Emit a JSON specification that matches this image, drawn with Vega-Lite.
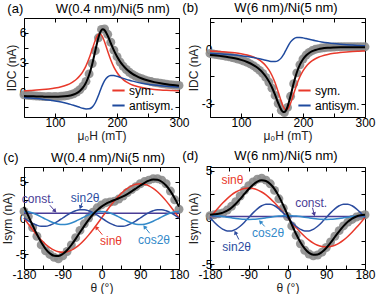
{
"$schema":"https://vega.github.io/schema/vega-lite/v6.json",
"padding":{"left":0,"top":0,"right":0,"bottom":0},
"config":{
 "font":"Liberation Sans",
 "view":{"stroke":"#000","strokeWidth":1},
 "axis":{"domain":false,"grid":false,"tickColor":"#000","tickSize":-4,"tickWidth":1,"labelFont":"Liberation Sans","labelFontSize":12,"labelColor":"#000","labelPadding":2,"labelFlush":false,"labelOverlap":false,"titleFont":"Liberation Sans","titleFontSize":12,"titleFontWeight":"normal","titleColor":"#222","titlePadding":1},
 "axisX":{"labelPadding":4,"titlePadding":2},
 "title":{"font":"Liberation Sans","fontSize":13,"fontWeight":"normal","color":"#000","anchor":"start","frame":"bounds","offset":2},
 "legend":{"labelFont":"Liberation Sans","labelFontSize":12,"labelColor":"#000","symbolType":"stroke","symbolStrokeWidth":2,"symbolSize":150,"rowPadding":1,"padding":0,"offset":5,"labelOffset":3}
},
"columns":2,
"bounds":"flush",
"spacing":{"row":50,"column":31},
"resolve":{"scale":{"color":"independent","angle":"independent"},"legend":{"color":"independent"}},
"concat":[
{
 "width":155,"height":99,
 "title":{"text":"(a)\u00a0\u00a0\u00a0\u00a0\u00a0\u00a0\u00a0\u00a0\u00a0W(0.4 nm)/Ni(5 nm)","dx":2},
 "data":{"name":"a"},
 "layer":[
  {"transform":[{"filter":"datum.s==='dat'"}],
   "mark":{"type":"circle","size":80,"color":"#8c8c8c","opacity":0.9},
   "encoding":{
    "x":{"field":"H","type":"quantitative","scale":{"domain":[50,300],"nice":false,"zero":false},"axis":{"values":[50,100,150,200,250,300],"labelExpr":"datum.value % 100 === 0 ? datum.label : ''","title":"μ₀H (mT)"}},
    "y":{"field":"v","type":"quantitative","scale":{"domain":[-2.5,7.5],"nice":false,"zero":false},"axis":{"values":[-1.5,0,1.5,3,4.5,6],"labelExpr":"datum.value % 3 === 0 ? datum.label : ''","title":"IDC (nA)"}}}},
  {"transform":[{"filter":"datum.s==='sym.' || datum.s==='antisym.'"}],
   "mark":{"type":"line","strokeWidth":1.5,"interpolate":"monotone"},
   "encoding":{
    "x":{"field":"H","type":"quantitative","axis":null},
    "y":{"field":"v","type":"quantitative","axis":null},
    "color":{"field":"s","type":"nominal","scale":{"domain":["sym.","antisym."],"range":["#e8392b","#1f4a9e"]},"legend":{"title":null,"orient":"bottom-right"}}}},
  {"transform":[{"filter":"datum.s==='fit'"}],
   "mark":{"type":"line","strokeWidth":2,"color":"#000","interpolate":"monotone"},
   "encoding":{
    "x":{"field":"H","type":"quantitative","axis":{"orient":"top","values":[50,100,150,200,250,300],"labels":false,"title":null}},
    "y":{"field":"v","type":"quantitative","axis":{"orient":"right","values":[-1.5,0,1.5,3,4.5,6],"labels":false,"title":null}}}}
 ],
 "resolve":{"axis":{"x":"independent","y":"independent"}}
},
{
 "width":155,"height":99,
 "title":{"text":"(b)\u00a0\u00a0\u00a0\u00a0\u00a0\u00a0\u00a0\u00a0\u00a0\u00a0W(6 nm)/Ni(5 nm)","dx":-5},
 "data":{"name":"b"},
 "layer":[
  {"transform":[{"filter":"datum.s==='dat'"}],
   "mark":{"type":"circle","size":80,"color":"#8c8c8c","opacity":0.9},
   "encoding":{
    "x":{"field":"H","type":"quantitative","scale":{"domain":[50,300],"nice":false,"zero":false},"axis":{"values":[50,100,150,200,250,300],"labelExpr":"datum.value % 100 === 0 ? datum.label : ''","title":"μ₀H (mT)"}},
    "y":{"field":"v","type":"quantitative","scale":{"domain":[-3.75,1.75],"nice":false,"zero":false},"axis":{"values":[-3,-1.5,0,1.5],"labelExpr":"datum.value % 3 === 0 ? replace(datum.label, '−', '-') : ''","title":"IDC (nA)"}}}},
  {"transform":[{"filter":"datum.s==='sym.' || datum.s==='antisym.'"}],
   "mark":{"type":"line","strokeWidth":1.5,"interpolate":"monotone"},
   "encoding":{
    "x":{"field":"H","type":"quantitative","axis":null},
    "y":{"field":"v","type":"quantitative","axis":null},
    "color":{"field":"s","type":"nominal","scale":{"domain":["sym.","antisym."],"range":["#e8392b","#1f4a9e"]},"legend":{"title":null,"orient":"bottom-right"}}}},
  {"transform":[{"filter":"datum.s==='fit'"}],
   "mark":{"type":"line","strokeWidth":2,"color":"#000","interpolate":"monotone"},
   "encoding":{
    "x":{"field":"H","type":"quantitative","axis":{"orient":"top","values":[50,100,150,200,250,300],"labels":false,"title":null}},
    "y":{"field":"v","type":"quantitative","axis":{"orient":"right","values":[-3,-1.5,0,1.5],"labels":false,"title":null}}}}
 ],
 "resolve":{"axis":{"x":"independent","y":"independent"}}
},
{
 "width":155,"height":102,
 "title":{"text":"(c)\u00a0\u00a0\u00a0\u00a0\u00a0\u00a0\u00a0\u00a0\u00a0W(0.4 nm)/Ni(5 nm)","dx":2},
 "data":{"name":"c"},
 "layer":[
  {"transform":[{"filter":"datum.s==='dat'"}],
   "mark":{"type":"circle","size":80,"color":"#8c8c8c","opacity":0.9},
   "encoding":{
    "x":{"field":"t","type":"quantitative","scale":{"domain":[-180,180],"nice":false,"zero":false},"axis":{"values":[-180,-135,-90,-45,0,45,90,135,180],"labelExpr":"datum.value % 90 === 0 ? replace(datum.label, '−', '-') : ''","title":"θ (°)"}},
    "y":{"field":"v","type":"quantitative","scale":{"domain":[-7,7],"nice":false,"zero":false},"axis":{"values":[-5,-2.5,0,2.5,5],"labelExpr":"datum.value % 5 === 0 ? replace(datum.label, '−', '-') : ''","title":"Isym (nA)"}}}},
  {"transform":[{"filter":"datum.s!=='dat' && datum.s!=='fit'"}],
   "mark":{"type":"line","strokeWidth":1.5,"interpolate":"monotone"},
   "encoding":{
    "x":{"field":"t","type":"quantitative","axis":null},
    "y":{"field":"v","type":"quantitative","axis":null},
    "color":{"field":"s","type":"nominal","scale":{"domain":["const.","sinθ","sin2θ","cos2θ"],"range":["#4a3d96","#e8392b","#2c4c9f","#3289c9"]},"legend":null}}},
  {"transform":[{"filter":"datum.s==='fit'"}],
   "mark":{"type":"line","strokeWidth":2,"color":"#000","interpolate":"monotone"},
   "encoding":{
    "x":{"field":"t","type":"quantitative","axis":{"orient":"top","values":[-180,-135,-90,-45,0,45,90,135,180],"labels":false,"title":null}},
    "y":{"field":"v","type":"quantitative","axis":{"orient":"right","values":[-5,-2.5,0,2.5,5],"labels":false,"title":null}}}},
  {"data":{"name":"ca"},
   "mark":{"type":"text","fontSize":12,"font":"Liberation Sans"},
   "encoding":{
    "x":{"field":"x","type":"quantitative","axis":null},
    "y":{"field":"y","type":"quantitative","axis":null},
    "text":{"field":"s"},
    "color":{"field":"s","type":"nominal","scale":{"domain":["const.","sinθ","sin2θ","cos2θ"],"range":["#4a3d96","#e8392b","#2c4c9f","#3289c9"]},"legend":null}}},
  {"data":{"name":"ca"},
   "mark":{"type":"rule","strokeWidth":1},
   "encoding":{
    "x":{"field":"x1","type":"quantitative","axis":null},
    "y":{"field":"y1","type":"quantitative","axis":null},
    "x2":{"field":"x2"},"y2":{"field":"y2"},
    "color":{"field":"s","type":"nominal","scale":{"domain":["const.","sinθ","sin2θ","cos2θ"],"range":["#4a3d96","#e8392b","#2c4c9f","#3289c9"]},"legend":null}}},
  {"data":{"name":"ca"},
   "mark":{"type":"point","shape":"triangle-up","filled":true,"size":22,"opacity":1},
   "encoding":{
    "x":{"field":"x2","type":"quantitative","axis":null},
    "y":{"field":"y2","type":"quantitative","axis":null},
    "angle":{"field":"s","type":"ordinal","scale":{"type":"ordinal","domain":["const.","sin2θ","sinθ","cos2θ"],"range":[138,200,320,322]},"legend":null},
    "color":{"field":"s","type":"nominal","scale":{"domain":["const.","sinθ","sin2θ","cos2θ"],"range":["#4a3d96","#e8392b","#2c4c9f","#3289c9"]},"legend":null}}}
 ],
 "resolve":{"axis":{"x":"independent","y":"independent"}}
},
{
 "width":155,"height":102,
 "title":{"text":"(d)\u00a0\u00a0\u00a0\u00a0\u00a0\u00a0\u00a0\u00a0\u00a0\u00a0W(6 nm)/Ni(5 nm)","dx":-5},
 "data":{"name":"d"},
 "layer":[
  {"transform":[{"filter":"datum.s==='dat'"}],
   "mark":{"type":"circle","size":80,"color":"#8c8c8c","opacity":0.9},
   "encoding":{
    "x":{"field":"t","type":"quantitative","scale":{"domain":[-180,180],"nice":false,"zero":false},"axis":{"values":[-180,-135,-90,-45,0,45,90,135,180],"labelExpr":"datum.value % 90 === 0 ? replace(datum.label, '−', '-') : ''","title":"θ (°)"}},
    "y":{"field":"v","type":"quantitative","scale":{"domain":[-5.5,5.4],"nice":false,"zero":false},"axis":{"values":[-5,-2.5,0,2.5,5],"labelExpr":"datum.value % 5 === 0 ? replace(datum.label, '−', '-') : ''","title":"Isym (nA)"}}}},
  {"transform":[{"filter":"datum.s!=='dat' && datum.s!=='fit'"}],
   "mark":{"type":"line","strokeWidth":1.5,"interpolate":"monotone"},
   "encoding":{
    "x":{"field":"t","type":"quantitative","axis":null},
    "y":{"field":"v","type":"quantitative","axis":null},
    "color":{"field":"s","type":"nominal","scale":{"domain":["const.","sinθ","sin2θ","cos2θ"],"range":["#4a3d96","#e8392b","#2c4c9f","#3289c9"]},"legend":null}}},
  {"transform":[{"filter":"datum.s==='fit'"}],
   "mark":{"type":"line","strokeWidth":2,"color":"#000","interpolate":"monotone"},
   "encoding":{
    "x":{"field":"t","type":"quantitative","axis":{"orient":"top","values":[-180,-135,-90,-45,0,45,90,135,180],"labels":false,"title":null}},
    "y":{"field":"v","type":"quantitative","axis":{"orient":"right","values":[-5,-2.5,0,2.5,5],"labels":false,"title":null}}}},
  {"data":{"name":"da"},
   "mark":{"type":"text","fontSize":12,"font":"Liberation Sans"},
   "encoding":{
    "x":{"field":"x","type":"quantitative","axis":null},
    "y":{"field":"y","type":"quantitative","axis":null},
    "text":{"field":"s"},
    "color":{"field":"s","type":"nominal","scale":{"domain":["const.","sinθ","sin2θ","cos2θ"],"range":["#4a3d96","#e8392b","#2c4c9f","#3289c9"]},"legend":null}}},
  {"data":{"name":"da"},
   "mark":{"type":"rule","strokeWidth":1},
   "encoding":{
    "x":{"field":"x1","type":"quantitative","axis":null},
    "y":{"field":"y1","type":"quantitative","axis":null},
    "x2":{"field":"x2"},"y2":{"field":"y2"},
    "color":{"field":"s","type":"nominal","scale":{"domain":["const.","sinθ","sin2θ","cos2θ"],"range":["#4a3d96","#e8392b","#2c4c9f","#3289c9"]},"legend":null}}},
  {"data":{"name":"da"},
   "mark":{"type":"point","shape":"triangle-up","filled":true,"size":22,"opacity":1},
   "encoding":{
    "x":{"field":"x2","type":"quantitative","axis":null},
    "y":{"field":"y2","type":"quantitative","axis":null},
    "angle":{"field":"s","type":"ordinal","scale":{"type":"ordinal","domain":["const.","sin2θ","sinθ","cos2θ"],"range":[163,334,0,317]},"legend":null},
    "color":{"field":"s","type":"nominal","scale":{"domain":["const.","sinθ","sin2θ","cos2θ"],"range":["#4a3d96","#e8392b","#2c4c9f","#3289c9"]},"legend":null}}}
 ],
 "resolve":{"axis":{"x":"independent","y":"independent"}}
}
],
"datasets":{
"a":[
{"s":"dat","H":50,"v":-0.25},{"s":"dat","H":55,"v":-0.3},{"s":"dat","H":60,"v":-0.33},{"s":"dat","H":65,"v":-0.35},{"s":"dat","H":70,"v":-0.38},{"s":"dat","H":75,"v":-0.4},{"s":"dat","H":80,"v":-0.42},{"s":"dat","H":85,"v":-0.44},{"s":"dat","H":90,"v":-0.43},{"s":"dat","H":95,"v":-0.45},{"s":"dat","H":100,"v":-0.42},{"s":"dat","H":105,"v":-0.44},{"s":"dat","H":110,"v":-0.4},{"s":"dat","H":115,"v":-0.38},{"s":"dat","H":120,"v":-0.33},{"s":"dat","H":125,"v":-0.26},{"s":"dat","H":130,"v":-0.15},{"s":"dat","H":135,"v":0.02},{"s":"dat","H":140,"v":0.25},{"s":"dat","H":145,"v":0.6},{"s":"dat","H":150,"v":1.1},{"s":"dat","H":155,"v":1.85},{"s":"dat","H":160,"v":2.9},{"s":"dat","H":165,"v":4.2},{"s":"dat","H":170,"v":5.5},{"s":"dat","H":175,"v":6.35},{"s":"dat","H":180,"v":6.4},{"s":"dat","H":185,"v":5.85},{"s":"dat","H":190,"v":5.05},{"s":"dat","H":195,"v":4.25},{"s":"dat","H":200,"v":3.6},{"s":"dat","H":205,"v":3.05},{"s":"dat","H":210,"v":2.62},{"s":"dat","H":215,"v":2.3},{"s":"dat","H":220,"v":2.02},{"s":"dat","H":225,"v":1.8},{"s":"dat","H":230,"v":1.62},{"s":"dat","H":235,"v":1.48},{"s":"dat","H":240,"v":1.36},{"s":"dat","H":245,"v":1.25},{"s":"dat","H":250,"v":1.15},{"s":"dat","H":255,"v":1.08},{"s":"dat","H":260,"v":1.0},{"s":"dat","H":265,"v":0.95},{"s":"dat","H":270,"v":0.9},{"s":"dat","H":275,"v":0.85},{"s":"dat","H":280,"v":0.8},{"s":"dat","H":285,"v":0.77},{"s":"dat","H":290,"v":0.74},{"s":"dat","H":295,"v":0.71},{"s":"dat","H":300,"v":0.69},
{"s":"sym.","H":50,"v":0.154},{"s":"sym.","H":60,"v":0.182},{"s":"sym.","H":70,"v":0.218},{"s":"sym.","H":80,"v":0.266},{"s":"sym.","H":90,"v":0.331},{"s":"sym.","H":100,"v":0.423},{"s":"sym.","H":110,"v":0.556},{"s":"sym.","H":120,"v":0.76},{"s":"sym.","H":125,"v":0.905},{"s":"sym.","H":130,"v":1.091},{"s":"sym.","H":135,"v":1.334},{"s":"sym.","H":140,"v":1.657},{"s":"sym.","H":145,"v":2.09},{"s":"sym.","H":150,"v":2.67},{"s":"sym.","H":155,"v":3.425},{"s":"sym.","H":160,"v":4.338},{"s":"sym.","H":165,"v":5.256},{"s":"sym.","H":170,"v":5.842},{"s":"sym.","H":172,"v":5.9},{"s":"sym.","H":175,"v":5.77},{"s":"sym.","H":177,"v":5.553},{"s":"sym.","H":180,"v":5.086},{"s":"sym.","H":185,"v":4.148},{"s":"sym.","H":190,"v":3.26},{"s":"sym.","H":195,"v":2.54},{"s":"sym.","H":200,"v":1.993},{"s":"sym.","H":205,"v":1.585},{"s":"sym.","H":210,"v":1.28},{"s":"sym.","H":215,"v":1.049},{"s":"sym.","H":220,"v":0.873},{"s":"sym.","H":225,"v":0.735},{"s":"sym.","H":230,"v":0.627},{"s":"sym.","H":240,"v":0.47},{"s":"sym.","H":250,"v":0.364},{"s":"sym.","H":260,"v":0.29},{"s":"sym.","H":270,"v":0.236},{"s":"sym.","H":280,"v":0.196},{"s":"sym.","H":290,"v":0.165},{"s":"sym.","H":300,"v":0.141},
{"s":"antisym.","H":50,"v":-0.543},{"s":"antisym.","H":60,"v":-0.588},{"s":"antisym.","H":70,"v":-0.642},{"s":"antisym.","H":80,"v":-0.706},{"s":"antisym.","H":90,"v":-0.783},{"s":"antisym.","H":100,"v":-0.877},{"s":"antisym.","H":110,"v":-0.993},{"s":"antisym.","H":120,"v":-1.139},{"s":"antisym.","H":125,"v":-1.225},{"s":"antisym.","H":130,"v":-1.32},{"s":"antisym.","H":135,"v":-1.422},{"s":"antisym.","H":140,"v":-1.528},{"s":"antisym.","H":145,"v":-1.626},{"s":"antisym.","H":150,"v":-1.692},{"s":"antisym.","H":155,"v":-1.678},{"s":"antisym.","H":160,"v":-1.5},{"s":"antisym.","H":165,"v":-1.06},{"s":"antisym.","H":170,"v":-0.337},{"s":"antisym.","H":172,"v":0},{"s":"antisym.","H":175,"v":0.499},{"s":"antisym.","H":177,"v":0.8},{"s":"antisym.","H":180,"v":1.172},{"s":"antisym.","H":185,"v":1.554},{"s":"antisym.","H":190,"v":1.691},{"s":"antisym.","H":195,"v":1.684},{"s":"antisym.","H":200,"v":1.608},{"s":"antisym.","H":205,"v":1.507},{"s":"antisym.","H":210,"v":1.401},{"s":"antisym.","H":215,"v":1.3},{"s":"antisym.","H":220,"v":1.207},{"s":"antisym.","H":225,"v":1.123},{"s":"antisym.","H":230,"v":1.048},{"s":"antisym.","H":240,"v":0.92},{"s":"antisym.","H":250,"v":0.818},{"s":"antisym.","H":260,"v":0.735},{"s":"antisym.","H":270,"v":0.666},{"s":"antisym.","H":280,"v":0.609},{"s":"antisym.","H":290,"v":0.56},{"s":"antisym.","H":300,"v":0.519},
{"s":"fit","H":50,"v":-0.389},{"s":"fit","H":60,"v":-0.406},{"s":"fit","H":70,"v":-0.424},{"s":"fit","H":80,"v":-0.44},{"s":"fit","H":90,"v":-0.452},{"s":"fit","H":100,"v":-0.454},{"s":"fit","H":110,"v":-0.437},{"s":"fit","H":120,"v":-0.379},{"s":"fit","H":125,"v":-0.32},{"s":"fit","H":130,"v":-0.229},{"s":"fit","H":135,"v":-0.088},{"s":"fit","H":140,"v":0.129},{"s":"fit","H":145,"v":0.464},{"s":"fit","H":150,"v":0.978},{"s":"fit","H":155,"v":1.747},{"s":"fit","H":160,"v":2.838},{"s":"fit","H":165,"v":4.196},{"s":"fit","H":170,"v":5.505},{"s":"fit","H":172,"v":5.9},{"s":"fit","H":175,"v":6.269},{"s":"fit","H":177,"v":6.353},{"s":"fit","H":180,"v":6.258},{"s":"fit","H":185,"v":5.702},{"s":"fit","H":190,"v":4.951},{"s":"fit","H":195,"v":4.224},{"s":"fit","H":200,"v":3.601},{"s":"fit","H":205,"v":3.092},{"s":"fit","H":210,"v":2.681},{"s":"fit","H":215,"v":2.349},{"s":"fit","H":220,"v":2.08},{"s":"fit","H":225,"v":1.858},{"s":"fit","H":230,"v":1.675},{"s":"fit","H":240,"v":1.39},{"s":"fit","H":250,"v":1.182},{"s":"fit","H":260,"v":1.025},{"s":"fit","H":270,"v":0.902},{"s":"fit","H":280,"v":0.805},{"s":"fit","H":290,"v":0.725},{"s":"fit","H":300,"v":0.66}
],
"b":[
{"s":"dat","H":50,"v":-0.22},{"s":"dat","H":55,"v":-0.25},{"s":"dat","H":60,"v":-0.28},{"s":"dat","H":65,"v":-0.31},{"s":"dat","H":70,"v":-0.34},{"s":"dat","H":75,"v":-0.37},{"s":"dat","H":80,"v":-0.4},{"s":"dat","H":85,"v":-0.44},{"s":"dat","H":90,"v":-0.48},{"s":"dat","H":95,"v":-0.53},{"s":"dat","H":100,"v":-0.58},{"s":"dat","H":105,"v":-0.64},{"s":"dat","H":110,"v":-0.71},{"s":"dat","H":115,"v":-0.8},{"s":"dat","H":120,"v":-0.9},{"s":"dat","H":125,"v":-1.02},{"s":"dat","H":130,"v":-1.16},{"s":"dat","H":135,"v":-1.33},{"s":"dat","H":140,"v":-1.55},{"s":"dat","H":145,"v":-1.82},{"s":"dat","H":150,"v":-2.15},{"s":"dat","H":155,"v":-2.55},{"s":"dat","H":160,"v":-3.0},{"s":"dat","H":165,"v":-3.38},{"s":"dat","H":170,"v":-3.5},{"s":"dat","H":175,"v":-3.22},{"s":"dat","H":180,"v":-2.6},{"s":"dat","H":185,"v":-1.9},{"s":"dat","H":190,"v":-1.3},{"s":"dat","H":195,"v":-0.85},{"s":"dat","H":200,"v":-0.53},{"s":"dat","H":205,"v":-0.31},{"s":"dat","H":210,"v":-0.16},{"s":"dat","H":215,"v":-0.06},{"s":"dat","H":220,"v":0.01},{"s":"dat","H":225,"v":0.05},{"s":"dat","H":230,"v":0.08},{"s":"dat","H":235,"v":0.1},{"s":"dat","H":240,"v":0.12},{"s":"dat","H":245,"v":0.13},{"s":"dat","H":250,"v":0.14},{"s":"dat","H":255,"v":0.15},{"s":"dat","H":260,"v":0.15},{"s":"dat","H":265,"v":0.16},{"s":"dat","H":270,"v":0.16},{"s":"dat","H":275,"v":0.16},{"s":"dat","H":280,"v":0.16},{"s":"dat","H":285,"v":0.16},{"s":"dat","H":290,"v":0.15},{"s":"dat","H":295,"v":0.15},{"s":"dat","H":300,"v":0.15},
{"s":"sym.","H":50,"v":-0.086},{"s":"sym.","H":60,"v":-0.102},{"s":"sym.","H":70,"v":-0.122},{"s":"sym.","H":80,"v":-0.148},{"s":"sym.","H":90,"v":-0.184},{"s":"sym.","H":100,"v":-0.234},{"s":"sym.","H":110,"v":-0.307},{"s":"sym.","H":120,"v":-0.418},{"s":"sym.","H":125,"v":-0.496},{"s":"sym.","H":130,"v":-0.596},{"s":"sym.","H":135,"v":-0.727},{"s":"sym.","H":140,"v":-0.9},{"s":"sym.","H":145,"v":-1.132},{"s":"sym.","H":150,"v":-1.442},{"s":"sym.","H":155,"v":-1.851},{"s":"sym.","H":160,"v":-2.355},{"s":"sym.","H":165,"v":-2.888},{"s":"sym.","H":168,"v":-3.153},{"s":"sym.","H":170,"v":-3.276},{"s":"sym.","H":173,"v":-3.35},{"s":"sym.","H":175,"v":-3.317},{"s":"sym.","H":180,"v":-2.984},{"s":"sym.","H":185,"v":-2.463},{"s":"sym.","H":190,"v":-1.945},{"s":"sym.","H":195,"v":-1.516},{"s":"sym.","H":200,"v":-1.187},{"s":"sym.","H":205,"v":-0.941},{"s":"sym.","H":210,"v":-0.757},{"s":"sym.","H":215,"v":-0.619},{"s":"sym.","H":220,"v":-0.514},{"s":"sym.","H":225,"v":-0.432},{"s":"sym.","H":230,"v":-0.367},{"s":"sym.","H":240,"v":-0.274},{"s":"sym.","H":250,"v":-0.212},{"s":"sym.","H":260,"v":-0.168},{"s":"sym.","H":270,"v":-0.137},{"s":"sym.","H":280,"v":-0.113},{"s":"sym.","H":290,"v":-0.095},{"s":"sym.","H":300,"v":-0.081},
{"s":"antisym.","H":50,"v":-0.214},{"s":"antisym.","H":60,"v":-0.232},{"s":"antisym.","H":70,"v":-0.253},{"s":"antisym.","H":80,"v":-0.277},{"s":"antisym.","H":90,"v":-0.307},{"s":"antisym.","H":100,"v":-0.344},{"s":"antisym.","H":110,"v":-0.389},{"s":"antisym.","H":120,"v":-0.446},{"s":"antisym.","H":125,"v":-0.479},{"s":"antisym.","H":130,"v":-0.516},{"s":"antisym.","H":135,"v":-0.556},{"s":"antisym.","H":140,"v":-0.598},{"s":"antisym.","H":145,"v":-0.639},{"s":"antisym.","H":150,"v":-0.668},{"s":"antisym.","H":155,"v":-0.671},{"s":"antisym.","H":160,"v":-0.617},{"s":"antisym.","H":165,"v":-0.466},{"s":"antisym.","H":168,"v":-0.318},{"s":"antisym.","H":170,"v":-0.198},{"s":"antisym.","H":173,"v":0},{"s":"antisym.","H":175,"v":0.134},{"s":"antisym.","H":180,"v":0.421},{"s":"antisym.","H":185,"v":0.596},{"s":"antisym.","H":190,"v":0.666},{"s":"antisym.","H":195,"v":0.672},{"s":"antisym.","H":200,"v":0.646},{"s":"antisym.","H":205,"v":0.607},{"s":"antisym.","H":210,"v":0.565},{"s":"antisym.","H":215,"v":0.524},{"s":"antisym.","H":220,"v":0.486},{"s":"antisym.","H":225,"v":0.452},{"s":"antisym.","H":230,"v":0.422},{"s":"antisym.","H":240,"v":0.37},{"s":"antisym.","H":250,"v":0.328},{"s":"antisym.","H":260,"v":0.295},{"s":"antisym.","H":270,"v":0.267},{"s":"antisym.","H":280,"v":0.244},{"s":"antisym.","H":290,"v":0.224},{"s":"antisym.","H":300,"v":0.207},
{"s":"fit","H":50,"v":-0.3},{"s":"fit","H":60,"v":-0.334},{"s":"fit","H":70,"v":-0.375},{"s":"fit","H":80,"v":-0.425},{"s":"fit","H":90,"v":-0.491},{"s":"fit","H":100,"v":-0.578},{"s":"fit","H":110,"v":-0.696},{"s":"fit","H":120,"v":-0.864},{"s":"fit","H":125,"v":-0.975},{"s":"fit","H":130,"v":-1.112},{"s":"fit","H":135,"v":-1.283},{"s":"fit","H":140,"v":-1.498},{"s":"fit","H":145,"v":-1.771},{"s":"fit","H":150,"v":-2.11},{"s":"fit","H":155,"v":-2.522},{"s":"fit","H":160,"v":-2.972},{"s":"fit","H":165,"v":-3.354},{"s":"fit","H":168,"v":-3.471},{"s":"fit","H":170,"v":-3.474},{"s":"fit","H":172,"v":-3.409},{"s":"fit","H":175,"v":-3.183},{"s":"fit","H":180,"v":-2.563},{"s":"fit","H":185,"v":-1.867},{"s":"fit","H":190,"v":-1.279},{"s":"fit","H":195,"v":-0.844},{"s":"fit","H":200,"v":-0.541},{"s":"fit","H":205,"v":-0.334},{"s":"fit","H":210,"v":-0.192},{"s":"fit","H":215,"v":-0.095},{"s":"fit","H":220,"v":-0.028},{"s":"fit","H":225,"v":0.02},{"s":"fit","H":230,"v":0.055},{"s":"fit","H":240,"v":0.096},{"s":"fit","H":250,"v":0.116},{"s":"fit","H":260,"v":0.127},{"s":"fit","H":270,"v":0.13},{"s":"fit","H":280,"v":0.131},{"s":"fit","H":290,"v":0.129},{"s":"fit","H":300,"v":0.126}
],
"c":[
{"s":"dat","t":-180,"v":0.9},{"s":"dat","t":-170,"v":0.2},{"s":"dat","t":-160,"v":-1.3},{"s":"dat","t":-150,"v":-2.5},{"s":"dat","t":-140,"v":-3.7},{"s":"dat","t":-130,"v":-4.5},{"s":"dat","t":-120,"v":-5.0},{"s":"dat","t":-110,"v":-5.4},{"s":"dat","t":-100,"v":-5.6},{"s":"dat","t":-90,"v":-5.2},{"s":"dat","t":-80,"v":-4.6},{"s":"dat","t":-70,"v":-3.7},{"s":"dat","t":-60,"v":-2.7},{"s":"dat","t":-50,"v":-1.7},{"s":"dat","t":-40,"v":-0.8},{"s":"dat","t":-30,"v":0.0},{"s":"dat","t":-20,"v":0.8},{"s":"dat","t":-10,"v":1.4},{"s":"dat","t":0,"v":1.8},{"s":"dat","t":10,"v":2.1},{"s":"dat","t":20,"v":2.2},{"s":"dat","t":30,"v":2.3},{"s":"dat","t":40,"v":2.6},{"s":"dat","t":50,"v":3.0},{"s":"dat","t":60,"v":3.5},{"s":"dat","t":70,"v":3.9},{"s":"dat","t":80,"v":4.3},{"s":"dat","t":90,"v":4.7},{"s":"dat","t":100,"v":5.0},{"s":"dat","t":110,"v":5.2},{"s":"dat","t":120,"v":5.4},{"s":"dat","t":130,"v":5.4},{"s":"dat","t":140,"v":5.2},{"s":"dat","t":150,"v":4.7},{"s":"dat","t":160,"v":3.7},{"s":"dat","t":170,"v":2.5},{"s":"dat","t":180,"v":1.2},
{"s":"const.","t":-180,"v":0.66},{"s":"const.","t":180,"v":0.66},
{"s":"sinθ","t":-180,"v":0},{"s":"sinθ","t":-170,"v":-0.818},{"s":"sinθ","t":-160,"v":-1.607},{"s":"sinθ","t":-150,"v":-2.35},{"s":"sinθ","t":-140,"v":-3.022},{"s":"sinθ","t":-130,"v":-3.6},{"s":"sinθ","t":-120,"v":-4.07},{"s":"sinθ","t":-110,"v":-4.418},{"s":"sinθ","t":-100,"v":-4.63},{"s":"sinθ","t":-90,"v":-4.7},{"s":"sinθ","t":-80,"v":-4.63},{"s":"sinθ","t":-70,"v":-4.418},{"s":"sinθ","t":-60,"v":-4.07},{"s":"sinθ","t":-50,"v":-3.6},{"s":"sinθ","t":-40,"v":-3.022},{"s":"sinθ","t":-30,"v":-2.35},{"s":"sinθ","t":-20,"v":-1.607},{"s":"sinθ","t":-10,"v":-0.818},{"s":"sinθ","t":0,"v":0},{"s":"sinθ","t":10,"v":0.818},{"s":"sinθ","t":20,"v":1.607},{"s":"sinθ","t":30,"v":2.35},{"s":"sinθ","t":40,"v":3.022},{"s":"sinθ","t":50,"v":3.6},{"s":"sinθ","t":60,"v":4.07},{"s":"sinθ","t":70,"v":4.418},{"s":"sinθ","t":80,"v":4.63},{"s":"sinθ","t":90,"v":4.7},{"s":"sinθ","t":100,"v":4.63},{"s":"sinθ","t":110,"v":4.418},{"s":"sinθ","t":120,"v":4.07},{"s":"sinθ","t":130,"v":3.6},{"s":"sinθ","t":140,"v":3.022},{"s":"sinθ","t":150,"v":2.35},{"s":"sinθ","t":160,"v":1.607},{"s":"sinθ","t":170,"v":0.818},{"s":"sinθ","t":180,"v":0},
{"s":"sin2θ","t":-180,"v":0},{"s":"sin2θ","t":-170,"v":-0.393},{"s":"sin2θ","t":-160,"v":-0.739},{"s":"sin2θ","t":-150,"v":-0.996},{"s":"sin2θ","t":-140,"v":-1.133},{"s":"sin2θ","t":-130,"v":-1.133},{"s":"sin2θ","t":-120,"v":-0.996},{"s":"sin2θ","t":-110,"v":-0.739},{"s":"sin2θ","t":-100,"v":-0.393},{"s":"sin2θ","t":-90,"v":0},{"s":"sin2θ","t":-80,"v":0.393},{"s":"sin2θ","t":-70,"v":0.739},{"s":"sin2θ","t":-60,"v":0.996},{"s":"sin2θ","t":-50,"v":1.133},{"s":"sin2θ","t":-40,"v":1.133},{"s":"sin2θ","t":-30,"v":0.996},{"s":"sin2θ","t":-20,"v":0.739},{"s":"sin2θ","t":-10,"v":0.393},{"s":"sin2θ","t":0,"v":0},{"s":"sin2θ","t":10,"v":-0.393},{"s":"sin2θ","t":20,"v":-0.739},{"s":"sin2θ","t":30,"v":-0.996},{"s":"sin2θ","t":40,"v":-1.133},{"s":"sin2θ","t":50,"v":-1.133},{"s":"sin2θ","t":60,"v":-0.996},{"s":"sin2θ","t":70,"v":-0.739},{"s":"sin2θ","t":80,"v":-0.393},{"s":"sin2θ","t":90,"v":0},{"s":"sin2θ","t":100,"v":0.393},{"s":"sin2θ","t":110,"v":0.739},{"s":"sin2θ","t":120,"v":0.996},{"s":"sin2θ","t":130,"v":1.133},{"s":"sin2θ","t":140,"v":1.133},{"s":"sin2θ","t":150,"v":0.996},{"s":"sin2θ","t":160,"v":0.739},{"s":"sin2θ","t":170,"v":0.393},{"s":"sin2θ","t":180,"v":0},
{"s":"cos2θ","t":-180,"v":0.9},{"s":"cos2θ","t":-170,"v":0.846},{"s":"cos2θ","t":-160,"v":0.689},{"s":"cos2θ","t":-150,"v":0.45},{"s":"cos2θ","t":-140,"v":0.157},{"s":"cos2θ","t":-130,"v":-0.157},{"s":"cos2θ","t":-120,"v":-0.45},{"s":"cos2θ","t":-110,"v":-0.689},{"s":"cos2θ","t":-100,"v":-0.846},{"s":"cos2θ","t":-90,"v":-0.9},{"s":"cos2θ","t":-80,"v":-0.846},{"s":"cos2θ","t":-70,"v":-0.689},{"s":"cos2θ","t":-60,"v":-0.45},{"s":"cos2θ","t":-50,"v":-0.157},{"s":"cos2θ","t":-40,"v":0.157},{"s":"cos2θ","t":-30,"v":0.45},{"s":"cos2θ","t":-20,"v":0.689},{"s":"cos2θ","t":-10,"v":0.846},{"s":"cos2θ","t":0,"v":0.9},{"s":"cos2θ","t":10,"v":0.846},{"s":"cos2θ","t":20,"v":0.689},{"s":"cos2θ","t":30,"v":0.45},{"s":"cos2θ","t":40,"v":0.157},{"s":"cos2θ","t":50,"v":-0.157},{"s":"cos2θ","t":60,"v":-0.45},{"s":"cos2θ","t":70,"v":-0.689},{"s":"cos2θ","t":80,"v":-0.846},{"s":"cos2θ","t":90,"v":-0.9},{"s":"cos2θ","t":100,"v":-0.846},{"s":"cos2θ","t":110,"v":-0.689},{"s":"cos2θ","t":120,"v":-0.45},{"s":"cos2θ","t":130,"v":-0.157},{"s":"cos2θ","t":140,"v":0.157},{"s":"cos2θ","t":150,"v":0.45},{"s":"cos2θ","t":160,"v":0.689},{"s":"cos2θ","t":170,"v":0.846},{"s":"cos2θ","t":180,"v":0.9},
{"s":"fit","t":-180,"v":1.56},{"s":"fit","t":-170,"v":0.295},{"s":"fit","t":-160,"v":-0.997},{"s":"fit","t":-150,"v":-2.236},{"s":"fit","t":-140,"v":-3.338},{"s":"fit","t":-130,"v":-4.23},{"s":"fit","t":-120,"v":-4.856},{"s":"fit","t":-110,"v":-5.186},{"s":"fit","t":-100,"v":-5.209},{"s":"fit","t":-90,"v":-4.94},{"s":"fit","t":-80,"v":-4.423},{"s":"fit","t":-70,"v":-3.708},{"s":"fit","t":-60,"v":-2.864},{"s":"fit","t":-50,"v":-1.964},{"s":"fit","t":-40,"v":-1.072},{"s":"fit","t":-30,"v":-0.244},{"s":"fit","t":-20,"v":0.481},{"s":"fit","t":-10,"v":1.081},{"s":"fit","t":0,"v":1.56},{"s":"fit","t":10,"v":1.931},{"s":"fit","t":20,"v":2.217},{"s":"fit","t":30,"v":2.464},{"s":"fit","t":40,"v":2.706},{"s":"fit","t":50,"v":2.97},{"s":"fit","t":60,"v":3.284},{"s":"fit","t":70,"v":3.65},{"s":"fit","t":80,"v":4.051},{"s":"fit","t":90,"v":4.46},{"s":"fit","t":100,"v":4.837},{"s":"fit","t":110,"v":5.128},{"s":"fit","t":120,"v":5.276},{"s":"fit","t":130,"v":5.236},{"s":"fit","t":140,"v":4.972},{"s":"fit","t":150,"v":4.456},{"s":"fit","t":160,"v":3.695},{"s":"fit","t":170,"v":2.717},{"s":"fit","t":180,"v":1.56}
],
"d":[
{"s":"dat","t":-180,"v":0.2},{"s":"dat","t":-170,"v":0.3},{"s":"dat","t":-160,"v":0.4},{"s":"dat","t":-150,"v":0.5},{"s":"dat","t":-140,"v":0.8},{"s":"dat","t":-130,"v":1.2},{"s":"dat","t":-120,"v":1.7},{"s":"dat","t":-110,"v":2.3},{"s":"dat","t":-100,"v":2.9},{"s":"dat","t":-90,"v":3.4},{"s":"dat","t":-80,"v":3.8},{"s":"dat","t":-70,"v":4.1},{"s":"dat","t":-60,"v":4.2},{"s":"dat","t":-50,"v":4.0},{"s":"dat","t":-40,"v":3.6},{"s":"dat","t":-30,"v":2.9},{"s":"dat","t":-20,"v":2.0},{"s":"dat","t":-10,"v":1.0},{"s":"dat","t":0,"v":0.1},{"s":"dat","t":10,"v":-0.9},{"s":"dat","t":20,"v":-1.9},{"s":"dat","t":30,"v":-2.8},{"s":"dat","t":40,"v":-3.5},{"s":"dat","t":50,"v":-3.9},{"s":"dat","t":60,"v":-4.1},{"s":"dat","t":70,"v":-4.0},{"s":"dat","t":80,"v":-3.7},{"s":"dat","t":90,"v":-3.2},{"s":"dat","t":100,"v":-2.6},{"s":"dat","t":110,"v":-2.0},{"s":"dat","t":120,"v":-1.4},{"s":"dat","t":130,"v":-0.9},{"s":"dat","t":140,"v":-0.5},{"s":"dat","t":150,"v":-0.2},{"s":"dat","t":160,"v":0.05},{"s":"dat","t":170,"v":0.2},{"s":"dat","t":180,"v":0.3},
{"s":"const.","t":-180,"v":0.1},{"s":"const.","t":180,"v":0.1},
{"s":"sinθ","t":-180,"v":0},{"s":"sinθ","t":-170,"v":0.548},{"s":"sinθ","t":-160,"v":1.077},{"s":"sinθ","t":-150,"v":1.575},{"s":"sinθ","t":-140,"v":2.025},{"s":"sinθ","t":-130,"v":2.413},{"s":"sinθ","t":-120,"v":2.728},{"s":"sinθ","t":-110,"v":2.961},{"s":"sinθ","t":-100,"v":3.103},{"s":"sinθ","t":-90,"v":3.15},{"s":"sinθ","t":-80,"v":3.103},{"s":"sinθ","t":-70,"v":2.961},{"s":"sinθ","t":-60,"v":2.728},{"s":"sinθ","t":-50,"v":2.413},{"s":"sinθ","t":-40,"v":2.025},{"s":"sinθ","t":-30,"v":1.575},{"s":"sinθ","t":-20,"v":1.077},{"s":"sinθ","t":-10,"v":0.548},{"s":"sinθ","t":0,"v":0},{"s":"sinθ","t":10,"v":-0.548},{"s":"sinθ","t":20,"v":-1.077},{"s":"sinθ","t":30,"v":-1.575},{"s":"sinθ","t":40,"v":-2.025},{"s":"sinθ","t":50,"v":-2.413},{"s":"sinθ","t":60,"v":-2.728},{"s":"sinθ","t":70,"v":-2.961},{"s":"sinθ","t":80,"v":-3.103},{"s":"sinθ","t":90,"v":-3.15},{"s":"sinθ","t":100,"v":-3.103},{"s":"sinθ","t":110,"v":-2.961},{"s":"sinθ","t":120,"v":-2.728},{"s":"sinθ","t":130,"v":-2.413},{"s":"sinθ","t":140,"v":-2.025},{"s":"sinθ","t":150,"v":-1.575},{"s":"sinθ","t":160,"v":-1.077},{"s":"sinθ","t":170,"v":-0.548},{"s":"sinθ","t":180,"v":0},
{"s":"sin2θ","t":-180,"v":0},{"s":"sin2θ","t":-170,"v":-0.496},{"s":"sin2θ","t":-160,"v":-0.932},{"s":"sin2θ","t":-150,"v":-1.256},{"s":"sin2θ","t":-140,"v":-1.428},{"s":"sin2θ","t":-130,"v":-1.428},{"s":"sin2θ","t":-120,"v":-1.256},{"s":"sin2θ","t":-110,"v":-0.932},{"s":"sin2θ","t":-100,"v":-0.496},{"s":"sin2θ","t":-90,"v":0},{"s":"sin2θ","t":-80,"v":0.496},{"s":"sin2θ","t":-70,"v":0.932},{"s":"sin2θ","t":-60,"v":1.256},{"s":"sin2θ","t":-50,"v":1.428},{"s":"sin2θ","t":-40,"v":1.428},{"s":"sin2θ","t":-30,"v":1.256},{"s":"sin2θ","t":-20,"v":0.932},{"s":"sin2θ","t":-10,"v":0.496},{"s":"sin2θ","t":0,"v":0},{"s":"sin2θ","t":10,"v":-0.496},{"s":"sin2θ","t":20,"v":-0.932},{"s":"sin2θ","t":30,"v":-1.256},{"s":"sin2θ","t":40,"v":-1.428},{"s":"sin2θ","t":50,"v":-1.428},{"s":"sin2θ","t":60,"v":-1.256},{"s":"sin2θ","t":70,"v":-0.932},{"s":"sin2θ","t":80,"v":-0.496},{"s":"sin2θ","t":90,"v":0},{"s":"sin2θ","t":100,"v":0.496},{"s":"sin2θ","t":110,"v":0.932},{"s":"sin2θ","t":120,"v":1.256},{"s":"sin2θ","t":130,"v":1.428},{"s":"sin2θ","t":140,"v":1.428},{"s":"sin2θ","t":150,"v":1.256},{"s":"sin2θ","t":160,"v":0.932},{"s":"sin2θ","t":170,"v":0.496},{"s":"sin2θ","t":180,"v":0},
{"s":"cos2θ","t":-180,"v":0.2},{"s":"cos2θ","t":-170,"v":0.188},{"s":"cos2θ","t":-160,"v":0.153},{"s":"cos2θ","t":-150,"v":0.1},{"s":"cos2θ","t":-140,"v":0.035},{"s":"cos2θ","t":-130,"v":-0.035},{"s":"cos2θ","t":-120,"v":-0.1},{"s":"cos2θ","t":-110,"v":-0.153},{"s":"cos2θ","t":-100,"v":-0.188},{"s":"cos2θ","t":-90,"v":-0.2},{"s":"cos2θ","t":-80,"v":-0.188},{"s":"cos2θ","t":-70,"v":-0.153},{"s":"cos2θ","t":-60,"v":-0.1},{"s":"cos2θ","t":-50,"v":-0.035},{"s":"cos2θ","t":-40,"v":0.035},{"s":"cos2θ","t":-30,"v":0.1},{"s":"cos2θ","t":-20,"v":0.153},{"s":"cos2θ","t":-10,"v":0.188},{"s":"cos2θ","t":0,"v":0.2},{"s":"cos2θ","t":10,"v":0.188},{"s":"cos2θ","t":20,"v":0.153},{"s":"cos2θ","t":30,"v":0.1},{"s":"cos2θ","t":40,"v":0.035},{"s":"cos2θ","t":50,"v":-0.035},{"s":"cos2θ","t":60,"v":-0.1},{"s":"cos2θ","t":70,"v":-0.153},{"s":"cos2θ","t":80,"v":-0.188},{"s":"cos2θ","t":90,"v":-0.2},{"s":"cos2θ","t":100,"v":-0.188},{"s":"cos2θ","t":110,"v":-0.153},{"s":"cos2θ","t":120,"v":-0.1},{"s":"cos2θ","t":130,"v":-0.035},{"s":"cos2θ","t":140,"v":0.035},{"s":"cos2θ","t":150,"v":0.1},{"s":"cos2θ","t":160,"v":0.153},{"s":"cos2θ","t":170,"v":0.188},{"s":"cos2θ","t":180,"v":0.2},
{"s":"fit","t":-180,"v":0.3},{"s":"fit","t":-170,"v":0.34},{"s":"fit","t":-160,"v":0.398},{"s":"fit","t":-150,"v":0.519},{"s":"fit","t":-140,"v":0.732},{"s":"fit","t":-130,"v":1.05},{"s":"fit","t":-120,"v":1.472},{"s":"fit","t":-110,"v":1.976},{"s":"fit","t":-100,"v":2.519},{"s":"fit","t":-90,"v":3.05},{"s":"fit","t":-80,"v":3.511},{"s":"fit","t":-70,"v":3.84},{"s":"fit","t":-60,"v":3.984},{"s":"fit","t":-50,"v":3.906},{"s":"fit","t":-40,"v":3.588},{"s":"fit","t":-30,"v":3.031},{"s":"fit","t":-20,"v":2.262},{"s":"fit","t":-10,"v":1.332},{"s":"fit","t":0,"v":0.3},{"s":"fit","t":10,"v":-0.756},{"s":"fit","t":20,"v":-1.756},{"s":"fit","t":30,"v":-2.631},{"s":"fit","t":40,"v":-3.318},{"s":"fit","t":50,"v":-3.776},{"s":"fit","t":60,"v":-3.984},{"s":"fit","t":70,"v":-3.946},{"s":"fit","t":80,"v":-3.687},{"s":"fit","t":90,"v":-3.25},{"s":"fit","t":100,"v":-2.695},{"s":"fit","t":110,"v":-2.082},{"s":"fit","t":120,"v":-1.472},{"s":"fit","t":130,"v":-0.92},{"s":"fit","t":140,"v":-0.462},{"s":"fit","t":150,"v":-0.119},{"s":"fit","t":160,"v":0.108},{"s":"fit","t":170,"v":0.236},{"s":"fit","t":180,"v":0.3}
],
"ca":[
{"s":"const.","x":-148,"y":2.6,"x1":-120,"y1":1.75,"x2":-108,"y2":0.95},
{"s":"sin2θ","x":-38,"y":2.75,"x1":-45,"y1":2.1,"x2":-49,"y2":1.45},
{"s":"sinθ","x":22,"y":-3.1,"x1":2,"y1":-2.3,"x2":-12,"y2":-1.3},
{"s":"cos2θ","x":122,"y":-3.0,"x1":112,"y1":-2.1,"x2":100,"y2":-1.2}
],
"da":[
{"s":"sinθ","x":-128,"y":4.0},
{"s":"const.","x":55,"y":1.6,"x1":58,"y1":1.05,"x2":62,"y2":0.35},
{"s":"cos2θ","x":-45,"y":-1.6,"x1":-53,"y1":-0.95,"x2":-63,"y2":-0.45},
{"s":"sin2θ","x":-118,"y":-3.1,"x1":-113,"y1":-2.35,"x2":-121,"y2":-1.6}
]
}
}
